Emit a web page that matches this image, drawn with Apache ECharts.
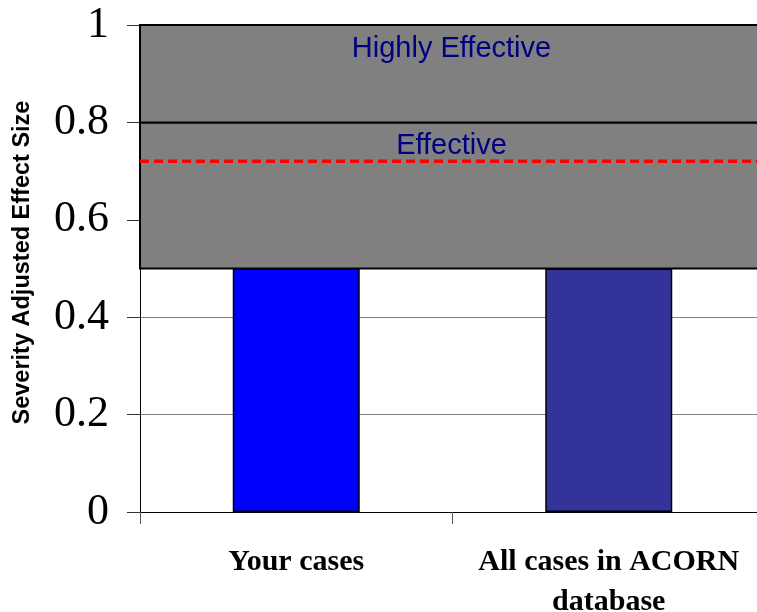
<!DOCTYPE html>
<html>
<head>
<meta charset="utf-8">
<script src="https://cdn.jsdelivr.net/npm/echarts@6/dist/echarts.min.js"></script>
<style>
  html, body { margin: 0; padding: 0; background: #ffffff; }
  #chart { width: 757px; height: 612px; }
</style>
</head>
<body>
<div id="chart"></div>
<script>
// Categories and their severity-adjusted effect sizes
const categories = ['Your cases', 'All cases in ACORN\ndatabase'];
const effectSizes = [0.5, 0.5];
const barColors = ['#0000ff', '#333399'];

// Effectiveness bands: [lower bound, upper bound] and their captions
const bandBounds = [[0.5, 0.8], [0.8, 1.0]];
const bandLabels = ['Effective', 'Highly Effective'];

// Reference threshold drawn as a dashed line
const threshold = 0.72;

// Y axis range
const yMin = 0, yMax = 1, yStep = 0.2;

const chart = echarts.init(document.getElementById('chart'), null, { renderer: 'canvas' });

chart.setOption({
  animation: false,
  backgroundColor: '#ffffff',
  // plot area runs slightly past the right edge of the canvas
  grid: { left: 140, width: 625, top: 25, height: 487, containLabel: false, outerBoundsMode: 'none' },
  xAxis: {
    type: 'category',
    data: categories,
    axisLine: { show: true, lineStyle: { color: '#000', width: 1 } },
    axisTick: { show: true, interval: 0, length: 12, alignWithLabel: false, lineStyle: { color: '#555', width: 1 } },
    axisLabel: {
      interval: 0,
      hideOverlap: false,
      margin: 30,
      fontFamily: '"Liberation Serif", "Times New Roman", serif',
      fontWeight: 'bold',
      fontSize: 30,
      lineHeight: 40,
      color: '#000'
    },
    splitLine: { show: false }
  },
  yAxis: {
    type: 'value',
    min: yMin,
    max: yMax,
    interval: yStep,
    name: 'Severity Adjusted Effect Size',
    nameLocation: 'middle',
    nameRotate: 90,
    nameGap: 105,
    nameTextStyle: {
      fontFamily: '"Liberation Sans", Arial, sans-serif',
      fontWeight: 'bold',
      fontSize: 23.5,
      color: '#000',
      padding: [0, 0, 0, 12]
    },
    axisLine: { show: true, lineStyle: { color: '#000', width: 1 } },
    axisTick: { show: true, inside: false, length: 13, lineStyle: { color: '#333', width: 1 } },
    axisLabel: {
      margin: 31,
      fontFamily: '"Liberation Serif", "Times New Roman", serif',
      fontSize: 44,
      color: '#000'
    },
    splitLine: { show: true, lineStyle: { color: '#808080', width: 1 } }
  },
  series: [
    {
      type: 'bar',
      z: 2,
      barWidth: 127,
      data: effectSizes.map((v, i) => ({
        value: v,
        itemStyle: { color: barColors[i], borderColor: '#000', borderWidth: 1.5 }
      }))
    },
    {
      // Shaded effectiveness bands spanning the full plot width
      type: 'custom',
      z: 3,
      clip: false,
      encode: { x: 0, y: [1, 2] },
      data: bandBounds.map(b => [0, b[0], b[1]]),
      renderItem: function (params, api) {
        const cs = params.coordSys;
        const yLo = api.coord([0, api.value(1)])[1];
        const yHi = api.coord([0, api.value(2)])[1];
        return {
          type: 'group',
          children: [
            {
              type: 'rect',
              shape: { x: cs.x, y: yHi, width: cs.width + 20, height: yLo - yHi },
              style: { fill: '#808080', stroke: '#000', lineWidth: 2 }
            },
            {
              type: 'text',
              x: cs.x + cs.width / 2 - 1,
              y: yHi + 9,
              style: {
                text: bandLabels[params.dataIndex],
                fill: '#000080',
                fontFamily: '"Liberation Sans", Arial, sans-serif',
                fontSize: 29,
                align: 'center',
                verticalAlign: 'top'
              }
            }
          ]
        };
      }
    },
    {
      // Dashed threshold line
      type: 'custom',
      z: 4,
      clip: false,
      encode: { x: 0, y: 1 },
      data: [[0, threshold]],
      renderItem: function (params, api) {
        const cs = params.coordSys;
        const y = api.coord([0, api.value(1)])[1];
        return {
          type: 'line',
          shape: { x1: cs.x, y1: y, x2: cs.x + cs.width + 20, y2: y },
          style: { stroke: '#ff0000', lineWidth: 3.5, lineDash: [9, 5] }
        };
      }
    }
  ]
});
</script>
</body>
</html>
